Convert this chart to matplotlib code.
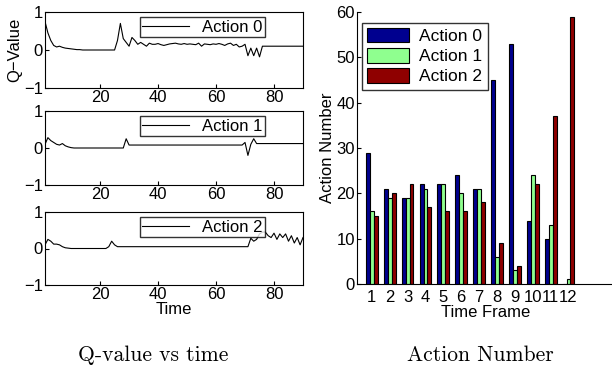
import numpy as np
import matplotlib
matplotlib.use("Agg")
import matplotlib.pyplot as plt

plt.rcParams['font.family'] = ['Liberation Sans', 'DejaVu Sans']

# ---- data ----
time = list(range(1, 91))
q_action0 = [0.75, 0.45, 0.25, 0.12, 0.08, 0.10, 0.07, 0.05, 0.04, 0.03,
             0.02, 0.01, 0.01, 0.00, 0.00, 0.00, 0.00, 0.00, 0.00, 0.00,
             0.00, 0.00, 0.00, 0.00, 0.00, 0.25, 0.70, 0.30, 0.20, 0.10,
             0.33, 0.25, 0.15, 0.20, 0.15, 0.10, 0.18, 0.15, 0.15, 0.17,
             0.14, 0.12, 0.14, 0.16, 0.17, 0.18, 0.16, 0.15, 0.17, 0.15,
             0.16, 0.15, 0.14, 0.18, 0.10, 0.16, 0.15, 0.14, 0.16, 0.15,
             0.17, 0.15, 0.12, 0.16, 0.18, 0.12, 0.15, 0.08, 0.10, 0.15,
             -0.15, 0.05, -0.15, 0.05, -0.18, 0.10, 0.10, 0.10, 0.10, 0.10,
             0.10, 0.10, 0.10, 0.10, 0.10, 0.10, 0.10, 0.10, 0.10, 0.10]
q_action1 = [0.10, 0.28, 0.20, 0.15, 0.10, 0.08, 0.12, 0.06, 0.03, 0.01,
             0.00, 0.00, 0.00, 0.00, 0.00, 0.00, 0.00, 0.00, 0.00, 0.00,
             0.00, 0.00, 0.00, 0.00, 0.00, 0.00, 0.00, 0.00, 0.25, 0.08,
             0.08, 0.08, 0.08, 0.08, 0.08, 0.08, 0.08, 0.08, 0.08, 0.08,
             0.08, 0.08, 0.08, 0.08, 0.08, 0.08, 0.08, 0.08, 0.08, 0.08,
             0.08, 0.08, 0.08, 0.08, 0.08, 0.08, 0.08, 0.08, 0.08, 0.08,
             0.08, 0.08, 0.08, 0.08, 0.08, 0.08, 0.08, 0.08, 0.08, 0.15,
             -0.20, 0.10, 0.25, 0.12, 0.12, 0.12, 0.12, 0.12, 0.12, 0.12,
             0.12, 0.12, 0.12, 0.12, 0.12, 0.12, 0.12, 0.12, 0.12, 0.12]
q_action2 = [0.10, 0.25, 0.20, 0.12, 0.12, 0.10, 0.05, 0.02, 0.01, 0.00,
             0.00, 0.00, 0.00, 0.00, 0.00, 0.00, 0.00, 0.00, 0.00, 0.00,
             0.00, 0.00, 0.05, 0.20, 0.10, 0.05, 0.05, 0.05, 0.05, 0.05,
             0.05, 0.05, 0.05, 0.05, 0.05, 0.05, 0.05, 0.05, 0.05, 0.05,
             0.05, 0.05, 0.05, 0.05, 0.05, 0.05, 0.05, 0.05, 0.05, 0.05,
             0.05, 0.05, 0.05, 0.05, 0.05, 0.05, 0.05, 0.05, 0.05, 0.05,
             0.05, 0.05, 0.05, 0.05, 0.05, 0.05, 0.05, 0.05, 0.05, 0.05,
             0.05, 0.28, 0.20, 0.25, 0.40, 0.45, 0.45, 0.35, 0.30, 0.42,
             0.25, 0.40, 0.30, 0.40, 0.20, 0.35, 0.15, 0.30, 0.10, 0.30]
q_series = [q_action0, q_action1, q_action2]
q_labels = ['Action 0', 'Action 1', 'Action 2']

frames = list(range(1, 13))
frame_labels = [str(f) for f in frames]
count_action0 = [29, 21, 19, 22, 22, 24, 21, 45, 53, 14, 10, 0]
count_action1 = [16, 19, 19, 21, 22, 20, 21, 6, 3, 24, 13, 1]
count_action2 = [15, 20, 22, 17, 16, 16, 18, 9, 4, 22, 37, 59]
bar_series = [count_action0, count_action1, count_action2]
bar_colors = ['#00008f', '#8fff8f', '#8f0000']

W, H = 612, 367
fig = plt.figure(figsize=(W / 100, H / 100), dpi=100)

def fr(l, t, r, b):
    return [l / W, 1 - b / H, (r - l) / W, (b - t) / H]

tick_fs = 12
lab_fs = 12
leg_fs = 12.5
left_boxes = [(45, 12, 303, 88), (45, 111, 303, 185), (45, 212, 303, 285)]
for i, (ys, lab) in enumerate(zip(q_series, q_labels)):
    ax = fig.add_axes(fr(*left_boxes[i]))
    ax.plot(time, ys, color='black', lw=0.8, label=lab)
    ax.set_xlim(1, 90)
    ax.set_ylim(-1, 1)
    ax.set_xticks([20, 40, 60, 80])
    ax.set_yticks([-1, 0, 1])
    ax.tick_params(direction='in', labelsize=tick_fs, length=3, pad=1.5)
    ax.yaxis.set_major_formatter(matplotlib.ticker.FuncFormatter(
        lambda v, p: '\u2212' + str(int(abs(v))) if v < 0 else str(int(v))))
    leg = ax.legend(loc='upper right', bbox_to_anchor=(0.853, 0.93),
                    borderaxespad=0, fontsize=12, frameon=True, fancybox=False,
                    handlelength=2.8, borderpad=0.15, handletextpad=0.8)
    leg.get_frame().set_edgecolor('black')
    leg.get_frame().set_linewidth(1.0)
    if i == 0:
        ax.set_ylabel('Q\u2212Value', fontsize=lab_fs, labelpad=1)
    if i == 2:
        ax.set_xlabel('Time', fontsize=lab_fs, labelpad=0)

axb = fig.add_axes(fr(357, 12, 615, 284))
x = np.array(frames, dtype=float)
bw = 0.22
for k, (vals, col, lab) in enumerate(zip(bar_series, bar_colors, q_labels)):
    axb.bar(x + (k - 1) * bw, vals, width=bw, color=col, edgecolor='black',
            linewidth=0.8, label=lab)
axb.set_xlim(0.17, 14.6)
axb.set_ylim(0, 60)
axb.set_xticks(frames)
axb.set_xticklabels(frame_labels)
axb.set_yticks([0, 10, 20, 30, 40, 50, 60])
axb.tick_params(direction='in', labelsize=tick_fs, length=3, pad=1.5)
axb.tick_params(axis='x', length=0, pad=4)
axb.spines['top'].set_visible(False)
axb.spines['right'].set_visible(False)
axb.set_xlabel('Time Frame', fontsize=lab_fs, labelpad=0)
axb.set_ylabel('Action Number', fontsize=lab_fs, labelpad=1)
lb = axb.legend(loc='upper left', bbox_to_anchor=(0.02, 0.96), borderaxespad=0,
                fontsize=leg_fs, frameon=True, fancybox=False, borderpad=0.3,
                handlelength=2.4, handleheight=0.9, labelspacing=0.22,
                handletextpad=0.6)
lb.get_frame().set_edgecolor('black')
lb.get_frame().set_linewidth(1.0)

fig.text(153 / W, 1 - 355 / H, 'Q-value vs time', family='cmr10', fontsize=15.5,
         ha='center', va='center')
fig.text(480 / W, 1 - 355 / H, 'Action Number', family='cmr10', fontsize=15.5,
         ha='center', va='center')

fig.savefig('out.png', dpi=100, facecolor='white')
